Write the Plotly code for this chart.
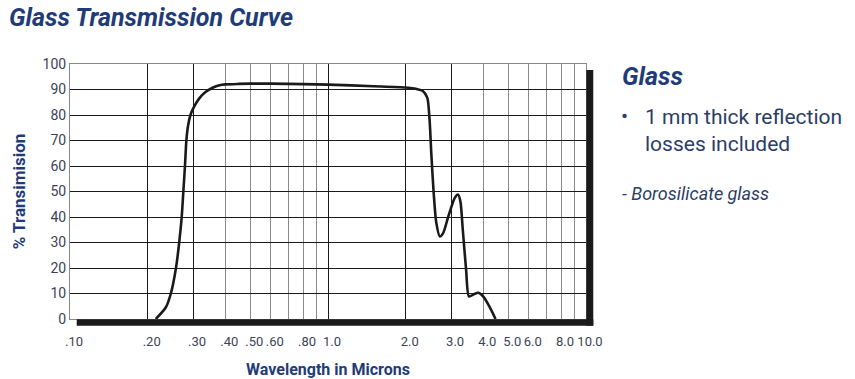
import plotly.graph_objects as go

# ---- data ----
wavelength_um = [0.215, 0.235, 0.246, 0.2575, 0.265, 0.271, 0.275, 0.279, 0.2825, 0.286,
                 0.293, 0.300, 0.317, 0.335, 0.357, 0.38, 0.40, 0.45, 0.5, 0.6, 0.8, 1.0,
                 1.5, 2.0, 2.158, 2.33, 2.425, 2.476, 2.514, 2.568, 2.63, 2.712, 2.795,
                 2.926, 3.10, 3.19, 3.26, 3.33, 3.43, 3.52, 3.69, 3.83, 4.0, 4.26, 4.46]
transmission_pct = [0, 4.5, 10, 20, 30, 40, 50, 60, 70, 75, 80, 82.5, 86.5, 89, 90.7, 91.7,
                    92, 92.2, 92.3, 92.3, 92.1, 91.9, 91.3, 90.8, 90.4, 89.4, 86.8, 78, 65,
                    49.4, 37.6, 32.4, 33.7, 40.2, 47.5, 48.8, 46.1, 35, 19.3, 8.8, 9.8, 10.3,
                    8.8, 4.2, 0]

x_tickvals = [0.1, 0.2, 0.3, 0.4, 0.5, 0.6, 0.7, 0.8, 0.9, 1.0, 2.0, 3.0, 4.0, 5.0, 6.0,
              7.0, 8.0, 9.0, 10.0]
x_ticktext = [".10", ".20", ".30", ".40", ".50", ".60", "", ".80", "", "1.0", "2.0", "3.0",
              "4.0", "5.0", "6.0", "", "8.0", "", "10.0"]
x_dark_grid = [0.2, 0.3, 1.0, 2.0, 3.0]
y_tickvals = [0, 10, 20, 30, 40, 50, 60, 70, 80, 90, 100]

NAVY = "#1f3c78"
BODY = "#2c3d66"
TICK = "#3d4356"
FONT = "Roboto, Liberation Sans, sans-serif"

fig = go.Figure()
# empty trace so that the base x/y subplot (labels + light grid) is created
fig.add_trace(go.Scatter(x=[None], y=[None], xaxis="x", yaxis="y", mode="lines",
                         showlegend=False, hoverinfo="skip"))
fig.add_trace(go.Scatter(
    x=wavelength_um, y=transmission_pct, mode="lines",
    line=dict(color="#1a1a1a", width=2.6, shape="spline", smoothing=0.7),
    xaxis="x2", yaxis="y", showlegend=False, hoverinfo="x+y"))

fig.update_layout(
    width=855, height=379,
    margin=dict(l=70, r=269, t=64, b=60, autoexpand=False),
    paper_bgcolor="white", plot_bgcolor="white",
    font=dict(family=FONT, color=TICK),
    title=dict(text="<b><i>Glass Transmission Curve</i></b>", x=9/855, xanchor="left",
               y=1-17/379, yanchor="middle", yref="container",
               font=dict(family=FONT, size=25, color=NAVY)),
    xaxis=dict(type="log", range=[-1, 1], tickmode="array", tickvals=x_tickvals,
               ticktext=x_ticktext, automargin=False, tickangle=0,
               showgrid=True, gridcolor="#8a8a8a", gridwidth=1,
               showline=True, linecolor="#888", mirror=True, ticks="",
               ticklabelstandoff=10, ticklabelshift=4,
               tickfont=dict(size=13, color=TICK, family=FONT),
               title=dict(text="<b>Wavelength in Microns</b>", standoff=18,
                          font=dict(size=16, color=NAVY, family=FONT)),
               zeroline=False),
    xaxis2=dict(type="log", range=[-1, 1], overlaying="x", side="bottom",
                tickmode="array", tickvals=x_dark_grid, showticklabels=False, ticks="",
                showgrid=True, gridcolor="#1a1a1a", gridwidth=1, zeroline=False,
                automargin=False, showline=False),
    yaxis=dict(range=[0, 100], tickmode="array", tickvals=y_tickvals, showgrid=True,
               gridcolor="#1a1a1a", automargin=False,
               gridwidth=1, showline=True, linecolor="#888", mirror=True, ticks="",
               zeroline=False,
               tickfont=dict(size=14, color=TICK, family=FONT),
               title=dict(text="<b>% Transimision</b>", standoff=12,
                          font=dict(size=17, color=NAVY, family=FONT))),
)

# drop shadow along bottom and right edges of the chart frame
shadow = dict(type="rect", xref="paper", yref="paper",
              fillcolor="#1a1a1a", line=dict(width=0), layer="above")
fig.add_shape(x0=0.013, x1=1.0141, y0=-0.0263, y1=-0.001, **shadow)
fig.add_shape(x0=1.0006, x1=1.0141, y0=-0.0263, y1=0.9765, **shadow)

# side description
fig.add_annotation(text="<b><i>Glass</i></b>", xref="paper", yref="paper",
                   x=(620-70)/516, y=(319-76)/255, xanchor="left", yanchor="middle",
                   showarrow=False, font=dict(size=25, color=NAVY, family=FONT))
fig.add_annotation(text="•", xref="paper", yref="paper",
                   x=(619-70)/516, y=(319-116)/255, xanchor="left", yanchor="middle",
                   showarrow=False, font=dict(size=21, color=BODY, family=FONT))
fig.add_annotation(text="1 mm thick reflection<br>losses included", xref="paper",
                   yref="paper", x=(643-70)/516, y=(319-130)/255, xanchor="left",
                   yanchor="middle", align="left", showarrow=False,
                   font=dict(size=21, color=BODY, family=FONT))
fig.add_annotation(text="<i>- Borosilicate glass</i>", xref="paper", yref="paper",
                   x=(620-70)/516, y=(319-193)/255, xanchor="left", yanchor="middle",
                   showarrow=False, font=dict(size=18, color=BODY, family=FONT))

fig.write_html("out.html", config={"displayModeBar": False},
               post_script="document.body.style.margin='0';document.body.style.padding='0';")
